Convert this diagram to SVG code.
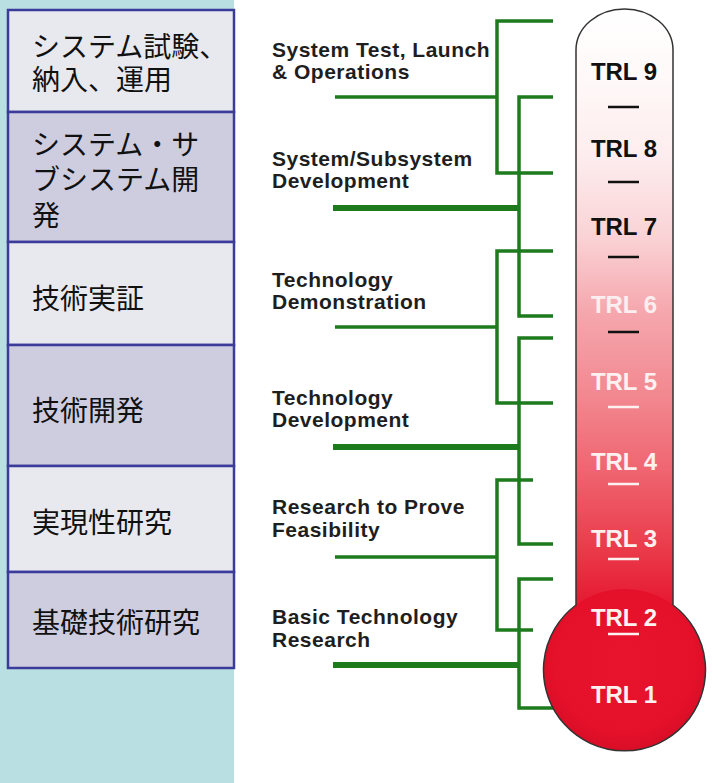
<svg xmlns="http://www.w3.org/2000/svg" width="718" height="783" viewBox="0 0 718 783">
<style>
.jp{font-family:"Noto Sans CJK JP","Noto Sans CJK SC",sans-serif;font-size:28px;fill:#111}
.en{font-family:"Liberation Sans",Arial,sans-serif;font-size:21px;font-weight:bold;fill:#1e1e1e;letter-spacing:0.5px}
.trl{font-family:"Liberation Sans",Arial,sans-serif;font-size:24px;font-weight:bold;text-anchor:middle}
.boxL{fill:#e8e9ef;stroke:#3b3b9b;stroke-width:2.5}
.boxD{fill:#cecde0;stroke:#3b3b9b;stroke-width:2.5}
.g{fill:none;stroke:#1d7a1d;stroke-width:3.5}
.gt{fill:none;stroke:#1d7a1d;stroke-width:6}
.dk{stroke:#111;stroke-width:2.5}
.wt{stroke:#fdf0f0;stroke-width:2.5}
</style>
<defs>
<linearGradient id="tube" gradientUnits="userSpaceOnUse" x1="0" y1="10" x2="0" y2="610">
<stop offset="0" stop-color="#ffffff"/>
<stop offset="0.12" stop-color="#fff8f8"/>
<stop offset="0.25" stop-color="#fdeced"/>
<stop offset="0.38" stop-color="#fad2d5"/>
<stop offset="0.5" stop-color="#f5a8ae"/>
<stop offset="0.65" stop-color="#f2868e"/>
<stop offset="0.77" stop-color="#ef6470"/>
<stop offset="0.9" stop-color="#ea3a4a"/>
<stop offset="1" stop-color="#e6152e"/>
</linearGradient>
<radialGradient id="bulb" cx="0.5" cy="0.45" r="0.55">
<stop offset="0" stop-color="#e8132c"/>
<stop offset="0.8" stop-color="#e5102a"/>
<stop offset="1" stop-color="#d80e26"/>
</radialGradient>
</defs>
<rect x="0" y="0" width="718" height="783" fill="#ffffff"/>
<rect x="0" y="0" width="234" height="783" fill="#b9dfe2"/>

<g id="box-1"><rect class="boxL" x="8" y="10" width="226" height="102"/>
<text class="jp" x="32" y="57">システム試験、</text><text class="jp" x="32" y="90">納入、運用</text></g>
<g id="box-2"><rect class="boxD" x="8" y="112" width="226" height="130"/>
<text class="jp" x="32" y="155">システム・サ</text><text class="jp" x="32" y="190">ブシステム開</text><text class="jp" x="32" y="226">発</text></g>
<g id="box-3"><rect class="boxL" x="8" y="242" width="226" height="103"/>
<text class="jp" x="32" y="309">技術実証</text></g>
<g id="box-4"><rect class="boxD" x="8" y="345" width="226" height="121"/>
<text class="jp" x="32" y="421">技術開発</text></g>
<g id="box-5"><rect class="boxL" x="8" y="466" width="226" height="106"/>
<text class="jp" x="32" y="533">実現性研究</text></g>
<g id="box-6"><rect class="boxD" x="8" y="572" width="226" height="96"/>
<text class="jp" x="32" y="633">基礎技術研究</text></g>

<g id="label-sys-test"><text class="en" x="272" y="57">System Test, Launch</text><text class="en" x="272" y="79">&amp; Operations</text></g>
<g id="label-sys-dev"><text class="en" x="272" y="166">System/Subsystem</text><text class="en" x="272" y="188">Development</text></g>
<g id="label-tech-demo"><text class="en" x="272" y="287">Technology</text><text class="en" x="272" y="309">Demonstration</text></g>
<g id="label-tech-dev"><text class="en" x="272" y="405">Technology</text><text class="en" x="272" y="427">Development</text></g>
<g id="label-feas"><text class="en" x="272" y="514">Research to Prove</text><text class="en" x="272" y="537">Feasibility</text></g>
<g id="label-basic"><text class="en" x="272" y="624">Basic Technology</text><text class="en" x="272" y="647">Research</text></g>

<g id="connectors">
<path class="g" d="M553,21 H497 V173 H553"/><path class="g" d="M335,97 H497"/>
<path class="g" d="M553,97 H519 V316 H553"/><path class="gt" d="M333,208 H519"/>
<path class="g" d="M553,251 H497 V403 H553"/><path class="g" d="M335,327 H497"/>
<path class="g" d="M553,338 H519 V544 H553"/><path class="gt" d="M333,447 H519"/>
<path class="g" d="M533,480 H497 V630 H533"/><path class="g" d="M335,557 H497"/>
<path class="g" d="M553,579 H519 V708 H556"/><path class="gt" d="M333,665 H519"/>
</g>

<g id="thermometer">
<path d="M576,612 L576,50 A48.5,41 0 0 1 673,50 L673,612 Z" fill="url(#tube)"/>
<circle cx="624.5" cy="670" r="81" fill="url(#bulb)"/>
<path d="M576,605 L576,50 A48.5,41 0 0 1 673,50 L673,605 A81,81 0 1 1 576,605 Z" fill="none" stroke="#333" stroke-width="1.5"/>
</g>

<g id="trl-9"><text class="trl" x="624" y="80" fill="#111">TRL 9</text><line class="dk" x1="608" y1="107" x2="639" y2="107"/></g>
<g id="trl-8"><text class="trl" x="624" y="157" fill="#111">TRL 8</text><line class="dk" x1="608" y1="182" x2="639" y2="182"/></g>
<g id="trl-7"><text class="trl" x="624" y="235" fill="#111">TRL 7</text><line class="dk" x1="608" y1="257" x2="639" y2="257"/></g>
<g id="trl-6"><text class="trl" x="624" y="313" fill="#fbeef0">TRL 6</text><line class="dk" x1="608" y1="332" x2="639" y2="332"/></g>
<g id="trl-5"><text class="trl" x="624" y="390" fill="#fdf0f0">TRL 5</text><line class="wt" x1="608" y1="407" x2="639" y2="407"/></g>
<g id="trl-4"><text class="trl" x="624" y="470" fill="#fdf0f0">TRL 4</text><line class="wt" x1="608" y1="484" x2="639" y2="484"/></g>
<g id="trl-3"><text class="trl" x="624" y="547" fill="#fdf0f0">TRL 3</text><line class="wt" x1="608" y1="559" x2="639" y2="559"/></g>
<g id="trl-2"><text class="trl" x="624" y="626" fill="#fdf0f0">TRL 2</text><line class="wt" x1="608" y1="634" x2="639" y2="634"/></g>
<g id="trl-1"><text class="trl" x="624" y="703" fill="#fdf0f0">TRL 1</text></g>
</svg>
